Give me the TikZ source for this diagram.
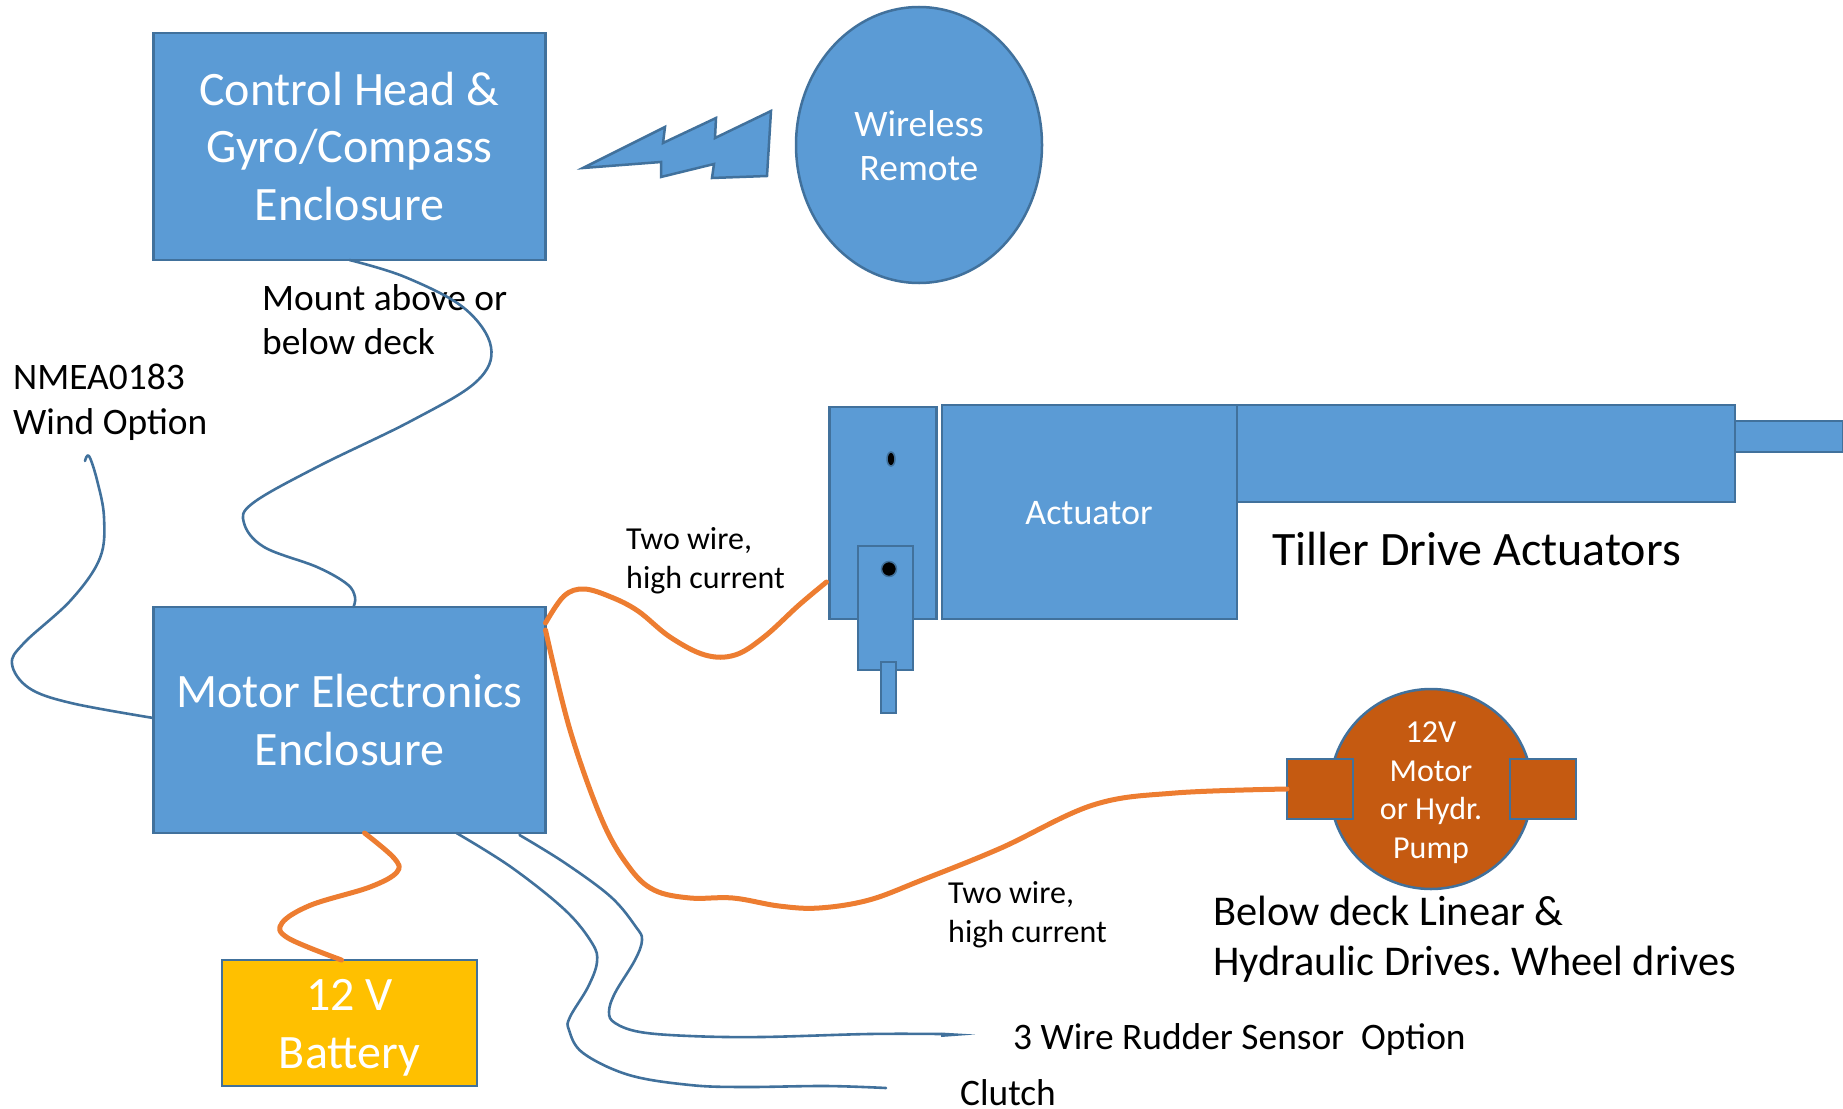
\documentclass[tikz,border=0pt]{standalone}
\usepackage{fontspec}
\setmainfont{Carlito}
\usetikzlibrary{shapes.geometric}
\definecolor{fillblue}{HTML}{5B9BD5}
\definecolor{lineblue}{HTML}{41719C}
\definecolor{wireorange}{HTML}{ED7D31}
\definecolor{pumporange}{HTML}{C55A11}
\definecolor{battyellow}{HTML}{FFC000}
\newcommand{\fsz}[2]{\fontsize{#1}{#2}\selectfont}
\frenchspacing
\tikzset{
  shapeline/.style={draw=lineblue,line width=2.5pt,fill=fillblue,inner sep=0pt,outer sep=0pt,text=white,align=center},
  box/.style={shapeline,rectangle},
  round/.style={shapeline,ellipse},
  big/.style={font=\fsz{48}{57.6}},
  mid/.style={font=\fsz{37.4}{44.5}},
  small/.style={font=\fsz{32}{38.6}},
  label/.style={inner sep=0pt,align=left,text=black,anchor=west},
  overlay text/.style={inner sep=0pt,align=center,text=white},
  bluewire/.style={draw=lineblue,line width=2.6pt,line cap=round,line join=round},
  orangewire/.style={draw=wireorange,line width=5pt,line cap=round,line join=round},
}
\begin{document}
\begin{tikzpicture}[x=1pt,y=-1pt]
\useasboundingbox (0,0) rectangle (1843,1108);
% main boxes
\node[box,big,minimum width=392pt,minimum height=227pt] (ctrl) at (349.5,146.5) {Control Head \&\\Gyro/Compass\\Enclosure};
\node[round,minimum width=246pt,minimum height=276pt] (remote) at (919,145) {};
\node[overlay text,mid] (remotetext) at (919,145.5) {Wireless\\Remote};
\node[box,big,minimum width=392pt,minimum height=226pt] (motor) at (349.5,720) {Motor Electronics\\Enclosure};
\node[box,fill=battyellow,minimum width=255pt,minimum height=126pt] (batt) at (349.5,1023) {};
\node[overlay text,big] (batttext) at (349.5,1028) {12 V\\Battery};
% lightning bolt
\path[draw=lineblue,line width=2.5pt,fill=fillblue,line join=miter]
 (583,168) -- (665,127) -- (663,143) -- (716,118) -- (715,138) -- (771,111) -- (767,176) -- (712,178) -- (714,164) -- (661,177) -- (661,162) -- cycle;
% actuator
\node[box,minimum width=107pt,minimum height=212pt] (clamp) at (883,513) {};
\node[box,minimum width=55pt,minimum height=124pt] (bracket) at (885.5,608) {};
\node[box,minimum width=15pt,minimum height=51pt] (pin) at (888.5,687.5) {};
\node[draw=lineblue,line width=1.5pt,fill=black,ellipse,inner sep=0pt,minimum width=8pt,minimum height=14pt] (hole1) at (891,459) {};
\node[draw=lineblue,line width=1.5pt,fill=black,circle,inner sep=0pt,minimum size=15pt] (hole2) at (889,569) {};
\node[box,minimum width=295pt,minimum height=214pt] (act) at (1089.5,512) {};
\node[overlay text,font=\fsz{36}{45}] (acttext) at (1089,513) {Actuator};
\node[box,minimum width=498pt,minimum height=97pt] (rod) at (1486,453.5) {};
\node[box,minimum width=108pt,minimum height=31pt] (tip) at (1789,436.5) {};
% pump
\node[round,fill=pumporange,minimum width=202pt,minimum height=200pt] (pump) at (1431,789) {};
\node[box,fill=pumporange,minimum width=66pt,minimum height=60pt] (pumpL) at (1320,789) {};
\node[box,fill=pumporange,minimum width=66pt,minimum height=60pt] (pumpR) at (1543,789) {};
\node[overlay text,small] (pumptext) at (1431,792.5) {12V\\Motor\\or Hydr.\\Pump};
% labels
\node[label,mid] (lmount) at (262,319.5) {Mount above or\\below deck};
\node[label,mid] (lnmea) at (13,402) {NMEA0183\\Wind Option};
\node[label,small] (ltwo1) at (626,561) {Two wire,\\high current};
\node[label,small] (ltwo2) at (948,914.5) {Two wire,\\high current};
\node[label,font=\fsz{48}{50}] (ltiller) at (1272,549.5) {Tiller Drive Actuators};
\node[label,font=\fsz{42.4}{50.5}] (lbelow) at (1213,939) {Below deck Linear \&\\Hydraulic Drives. Wheel drives};
\node[label,mid] (lrudder) at (1013,1040) {3 Wire Rudder Sensor~~Option};
\node[label,mid,align=none] (lclutch) at (960,1093) {Clutch};
% free ends
\coordinate (nmeaend) at (85,461);
\coordinate (clutchend) at (886,1088);
\coordinate (rudderend) at (941,1034);
% blue wires
\draw[bluewire] plot[smooth,tension=0.6] coordinates {(ctrl.south) (405,277) (464,308) (491,347) (476,382) (411,421) (317,467) (253,503) (244,523) (264,547) (317,567) (347,584) (355,597) ([xshift=4pt]motor.north)};
\draw[bluewire] plot[smooth,tension=0.6] coordinates {(nmeaend) (89,456) (97,480) (104,517) (100,558) (71,600) (24,643) (12,664) (29,688) (71,703) ([yshift=2pt]motor.west)};
\draw[bluewire] plot[smooth,tension=0.6] coordinates {([xshift=107pt]motor.south) (511,867) (565,910) (592,943) (597,962) (588,987) (570,1017) (569,1030) (583,1053) (629,1075) (690,1085) (744,1087) (826,1086) (clutchend)};
\draw[bluewire] plot[smooth,tension=0.6] coordinates {([xshift=170pt,yshift=-2pt]motor.south) (565,863) (611,897) (636,927) (642,940) (635,960) (615,993) (609,1012) (615,1023) (640,1032) (690,1036) (761,1037) (869,1034) (rudderend)};
\fill[lineblue] (941,1032.5) -- (975,1034.5) -- (941,1037) -- cycle;
% orange wires
\draw[orangewire] plot[smooth,tension=0.6] coordinates {([yshift=-16pt]motor.north east) (564,596) (584,589) (611,597) (638,611) (670,637) (705,655) (735,655) (764,637) (799,605) ([xshift=-3pt,yshift=-69pt]clamp.west)};
\draw[orangewire] plot[smooth,tension=0.6] coordinates {([yshift=-23pt]motor.north east) (570,730) (602,820) (629,867) (654,890) (690,898) (733,898) (779,906) (819,908) (869,900) (922,880) (1001,848) (1093,805) (1175,793) (pumpL.west)};
\draw[orangewire] plot[smooth,tension=0.6] coordinates {([xshift=15pt]motor.south) (394,858) (397,872) (370,887) (311,905) (282,923) (288,938) ([xshift=-8pt]batt.north)};
\end{tikzpicture}
\end{document}
